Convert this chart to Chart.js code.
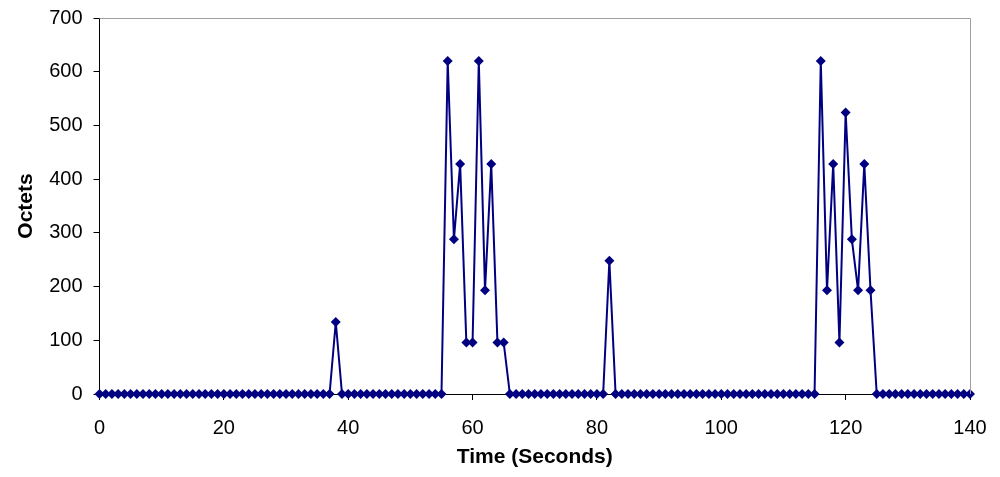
<!doctype html>
<html lang="en">
<head>
    <meta charset="UTF-8">
    <title>Octets</title>
    <style>
        html, body { margin: 0; padding: 0; background: #fff; }
        .grafico { width: 1000px; height: 477px; }
    </style>
    <script src="https://cdn.jsdelivr.net/npm/chart.js"></script>
</head>
<body>
    <div class="grafico">
        <canvas id="grafico1"></canvas>
    </div>

    <script>
        // octets received per second, t = 0 .. 140
        const octets = [
            0, 0, 0, 0, 0, 0, 0, 0, 0, 0,
            0, 0, 0, 0, 0, 0, 0, 0, 0, 0,
            0, 0, 0, 0, 0, 0, 0, 0, 0, 0,
            0, 0, 0, 0, 0, 0, 0, 0, 134, 0,
            0, 0, 0, 0, 0, 0, 0, 0, 0, 0,
            0, 0, 0, 0, 0, 0, 620, 288, 428, 96,
            96, 620, 193, 428, 96, 96, 0, 0, 0, 0,
            0, 0, 0, 0, 0, 0, 0, 0, 0, 0,
            0, 0, 248, 0, 0, 0, 0, 0, 0, 0,
            0, 0, 0, 0, 0, 0, 0, 0, 0, 0,
            0, 0, 0, 0, 0, 0, 0, 0, 0, 0,
            0, 0, 0, 0, 0, 0, 620, 193, 428, 96,
            524, 288, 193, 428, 193, 0, 0, 0, 0, 0,
            0, 0, 0, 0, 0, 0, 0, 0, 0, 0,
            0
        ];
        // one sample per second
        const seconds = octets.map((v, i) => i);

        const xTicks = { min: 0, max: 140, step: 20 };
        const yTicks = { min: 0, max: 700, step: 100 };

        Chart.defaults.font.family = '"Liberation Sans", Arial, sans-serif';
        Chart.defaults.color = '#000';

        // gray frame on top and right of the plot area
        const frame = {
            id: 'frame',
            afterDraw(chart) {
                const a = chart.chartArea;
                const c = chart.ctx;
                c.save();
                c.strokeStyle = '#a0a0a0';
                c.lineWidth = 1;
                c.beginPath();
                c.moveTo(a.left, a.top + 0.5);
                c.lineTo(a.right + 0.5, a.top + 0.5);
                c.lineTo(a.right + 0.5, a.bottom);
                c.stroke();
                c.restore();
            }
        };

        const ctx = document.getElementById('grafico1');

        let grafico = new Chart(ctx, {
            type: 'line',
            data: {
                labels: seconds,
                datasets: [{
                    label: 'Octets',
                    data: octets,
                    borderColor: '#000080',
                    backgroundColor: '#000080',
                    borderWidth: 2,
                    pointStyle: 'rectRot',
                    pointRadius: 5,
                    pointBorderWidth: 0,
                    tension: 0,
                    clip: false
                }]
            },
            options: {
                responsive: true,
                maintainAspectRatio: false,
                animation: false,
                layout: {
                    padding: { top: 18, right: 30, left: 0, bottom: 0 }
                },
                plugins: {
                    legend: { display: false },
                    tooltip: { enabled: false }
                },
                scales: {
                    x: {
                        type: 'linear',
                        min: xTicks.min,
                        max: xTicks.max,
                        afterFit: s => {
                            s.height = 83;
                            s.paddingLeft = 0;
                            s.paddingRight = 0;
                        },
                        ticks: {
                            stepSize: xTicks.step,
                            font: { size: 20 },
                            padding: 16,
                            maxRotation: 0
                        },
                        grid: {
                            drawOnChartArea: false,
                            color: '#000',
                            tickLength: 6
                        },
                        border: { color: '#000', width: 1 },
                        title: {
                            display: true,
                            text: 'Time (Seconds)',
                            font: { size: 21, weight: 'bold' },
                            padding: { top: 0, bottom: 7 }
                        }
                    },
                    y: {
                        min: yTicks.min,
                        max: yTicks.max,
                        afterFit: s => {
                            s.width = 99.5;
                            s.paddingTop = 0;
                            s.paddingBottom = 0;
                        },
                        ticks: {
                            stepSize: yTicks.step,
                            font: { size: 20 },
                            padding: 11
                        },
                        grid: {
                            drawOnChartArea: false,
                            color: '#000',
                            tickLength: 6
                        },
                        border: { color: '#000', width: 1 },
                        title: {
                            display: true,
                            text: 'Octets',
                            font: { size: 21, weight: 'bold' },
                            padding: { top: 14, bottom: 0 }
                        }
                    }
                }
            },
            plugins: [frame]
        });
    </script>
</body>
</html>
